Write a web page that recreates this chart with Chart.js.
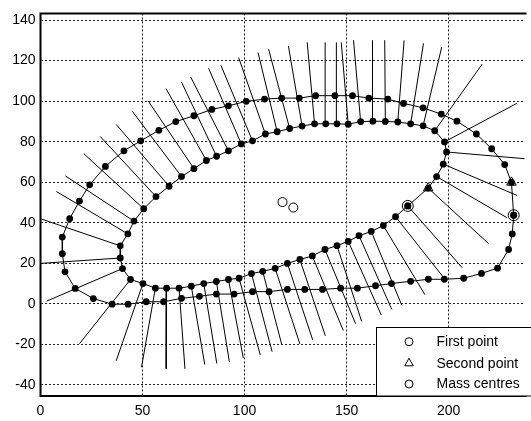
<!DOCTYPE html>
<html>
<head>
<meta charset="utf-8">
<script src="https://cdn.jsdelivr.net/npm/chart.js@4.4.1/dist/chart.umd.min.js"></script>
<style>
  html, body { margin: 0; padding: 0; background: #fff; }
  canvas { display: block; }
</style>
</head>
<body>
<canvas id="chart" width="531" height="421"></canvas>
<script>
// inner contour, counter-clockwise from its first point
const innerX = [180.0, 190.0, 194.1, 197.4, 199.0, 198.0, 193.2, 187.5, 181.4, 175.1,
  169.0, 162.9, 156.9, 150.8, 145.3, 139.8, 134.3, 128.2, 122.1, 116.0,
  110.2, 103.9, 98.4, 92.1, 86.3, 81.3, 75.2, 69.1, 63.0, 56.6,
  50.6, 45.8, 42.8, 39.1, 39.1, 40.2, 44.1, 50.2, 56.3, 61.8,
  67.9, 73.9, 80.0, 86.2, 92.1, 97.3, 103.4, 108.9, 115.0, 121.0,
  127.1, 133.2, 139.4, 145.3, 150.8, 156.1, 162.1, 168.0, 174.0];
const innerY = [48.3, 57.1, 62.8, 68.9, 74.9, 79.9, 85.4, 87.8, 88.8, 89.7,
  90.0, 90.1, 89.9, 88.6, 88.8, 88.8, 88.8, 87.7, 86.5, 84.9,
  83.8, 80.4, 78.9, 75.5, 72.8, 70.7, 66.7, 62.8, 58.0, 52.9,
  46.9, 40.8, 34.5, 28.6, 22.6, 17.4, 12.0, 10.0, 7.7, 7.7,
  7.7, 8.7, 10.0, 11.0, 12.0, 12.6, 14.9, 16.0, 17.5, 19.9,
  21.9, 23.6, 26.8, 28.7, 30.8, 33.6, 35.7, 38.6, 43.0];

// far end of the normal drawn from each inner point
const normalX = [206.7, 219.6, 228.6, 233.5, 238.5, 233.4, 216.5, 196.6, 187.7, 178.2,
  168.7, 162.7, 153.4, 147.4, 145.0, 139.5, 130.7, 121.5, 111.8, 106.6,
  97.1, 88.4, 82.4, 73.6, 69.1, 61.5, 52.7, 45.0, 37.1, 29.3,
  21.2, 12.2, 7.8, 0.5, -0.3, 3.0, 19.1, 37.1, 49.5, 61.6,
  70.8, 80.5, 86.4, 92.6, 99.4, 107.7, 113.5, 118.2, 127.1, 133.4,
  139.6, 148.4, 154.4, 157.4, 167.0, 172.2, 177.1, 188.4, 197.5];
const normalY = [17.8, 29.7, 42.5, 53.5, 71.5, 98.9, 118.3, 126.6, 128.5, 130.0,
  130.1, 130.1, 130.1, 129.0, 129.0, 129.0, 129.0, 127.2, 125.6, 124.0,
  121.5, 117.7, 116.2, 111.9, 109.4, 106.2, 100.2, 95.0, 88.5, 82.5,
  74.1, 63.1, 55.4, 41.8, 19.9, 1.3, -19.7, -28.1, -31.3, -32.0,
  -32.1, -30.0, -29.4, -28.8, -26.8, -25.2, -23.6, -20.0, -19.8, -17.8,
  -15.8, -13.2, -9.8, -8.7, -5.5, -2.8, -0.8, 4.5, 13.0];

// outer contour, counter-clockwise from its first point
const outerX = [231.9, 230.8, 227.5, 221.1, 213.6, 204.1, 196.4, 187.5, 177.9, 170.2,
  160.9, 152.9, 144.3, 134.8, 126.8, 118.2, 109.8, 100.8, 92.1, 84.0,
  75.2, 66.3, 58.0, 49.1, 40.9, 31.8, 24.1, 19.1, 14.3, 10.7,
  10.7, 12.0, 17.0, 25.9, 35.1, 42.9, 51.8, 60.3, 69.1, 77.9,
  86.2, 94.9, 103.9, 112.0, 121.0, 129.5, 138.2, 147.1, 155.3, 164.2,
  172.0, 181.4, 190.1, 197.9, 207.4, 216.1, 224.0, 229.4, 231.2];
const outerY = [43.7, 59.9, 68.7, 76.5, 83.8, 90.1, 93.6, 96.7, 98.9, 101.0,
  101.5, 102.7, 102.7, 102.7, 101.5, 101.5, 101.0, 99.9, 97.7, 95.9,
  92.8, 89.9, 85.6, 80.4, 75.5, 67.8, 58.7, 50.7, 42.0, 32.9,
  24.7, 15.8, 7.6, 2.6, -0.2, -0.2, 1.0, 1.0, 2.7, 3.7,
  4.8, 4.8, 6.0, 6.0, 7.1, 7.1, 7.1, 7.7, 7.7, 8.9,
  10.0, 11.1, 12.1, 12.1, 12.6, 15.0, 17.6, 26.8, 34.5];

const firstPointX = [180.0, 231.9];
const firstPointY = [48.3, 43.7];
const secondPointX = [190.0, 230.8];
const secondPointY = [57.1, 59.9];
const massCentreX = [118.6, 123.9];
const massCentreY = [50.2, 47.5];

const xTicks = [0, 50, 100, 150, 200];
const yTicks = [-40, -20, 0, 20, 40, 60, 80, 100, 120, 140];
const legendLabels = ['First point', 'Second point', 'Mass centres'];

const FONT = '"Liberation Sans", Arial, sans-serif';

const toPoints = (xs, ys) => xs.map((x, i) => ({ x, y: ys[i] }));
const closed = pts => pts.concat([pts[0]]);

function contour (xs, ys) {
  return {
    data: closed(toPoints(xs, ys)),
    showLine: true,
    borderColor: '#000',
    borderWidth: 1,
    pointRadius: 3.4,
    pointBackgroundColor: '#000',
    pointBorderWidth: 0,
    order: 2
  };
}

function markers (xs, ys, style, radius) {
  return {
    data: toPoints(xs, ys),
    showLine: false,
    pointStyle: style,
    pointRadius: radius,
    pointBackgroundColor: 'rgba(0,0,0,0)',
    pointBorderColor: '#000',
    pointBorderWidth: 1,
    order: 1
  };
}

const normals = innerX.map((x, i) => ({
  data: [{ x, y: innerY[i] }, { x: normalX[i], y: normalY[i] }],
  showLine: true,
  borderColor: '#000',
  borderWidth: 1,
  pointRadius: 0,
  order: 3
}));

// frame and legend box, drawn on top of the plot
const framePlugin = {
  id: 'frame',
  afterDraw (chart) {
    const { ctx, chartArea: a } = chart;
    ctx.save();
    ctx.strokeStyle = '#000';
    ctx.lineWidth = 2;
    ctx.beginPath();
    ctx.moveTo(a.right + 2, a.top);
    ctx.lineTo(a.left, a.top);
    ctx.lineTo(a.left, a.bottom);
    ctx.lineTo(a.right + 2, a.bottom);
    ctx.stroke();

    // legend
    const bx = 376.5, by = 327.5;
    ctx.fillStyle = '#fff';
    ctx.fillRect(bx, by, 200, a.bottom - by);
    ctx.lineWidth = 1;
    ctx.strokeRect(bx, by, 200, a.bottom - by);

    const rows = [341.7, 363.3, 384.0];
    const mx = 409;
    ctx.font = '14px ' + FONT;
    ctx.textBaseline = 'middle';
    ctx.fillStyle = '#000';
    legendLabels.forEach((label, i) => {
      const y = rows[i];
      ctx.beginPath();
      if (i === 1) {
        const r = 5;
        ctx.moveTo(mx, y - r);
        ctx.lineTo(mx + r * 0.866, y + r * 0.5);
        ctx.lineTo(mx - r * 0.866, y + r * 0.5);
        ctx.closePath();
      } else {
        ctx.arc(mx, y, 4, 0, Math.PI * 2);
      }
      ctx.stroke();
      ctx.fillText(label, 436.5, y + 0.5);
    });
    ctx.restore();
  }
};

new Chart(document.getElementById('chart'), {
  type: 'scatter',
  data: {
    datasets: [
      markers(firstPointX, firstPointY, 'circle', 5.5),
      markers(secondPointX, secondPointY, 'triangle', 5.5),
      markers(massCentreX, massCentreY, 'circle', 4.5),
      contour(innerX, innerY),
      contour(outerX, outerY),
      ...normals
    ]
  },
  options: {
    responsive: false,
    animation: false,
    events: [],
    layout: { padding: { top: 6, left: 0, right: 0, bottom: 0 } },
    plugins: {
      legend: { display: false },
      tooltip: { enabled: false }
    },
    scales: {
      x: {
        type: 'linear',
        min: 0,
        max: 237.2,
        afterBuildTicks: s => { s.ticks = xTicks.map(v => ({ value: v })); },
        afterFit: s => { s.height = 25; },
        grid: { color: '#222', lineWidth: 1, drawTicks: false },
        border: { display: false, dash: [2, 2] },
        ticks: { color: '#000', padding: 7, maxRotation: 0, font: { family: FONT, size: 14 } }
      },
      y: {
        type: 'linear',
        min: -45.5,
        max: 143.3,
        afterBuildTicks: s => { s.ticks = yTicks.map(v => ({ value: v })); },
        afterFit: s => { s.width = 40.5; },
        grid: { color: '#222', lineWidth: 1, drawTicks: false },
        border: { display: false, dash: [2, 2] },
        ticks: { color: '#000', padding: 5, font: { family: FONT, size: 14 } }
      }
    }
  },
  plugins: [framePlugin]
});
</script>
</body>
</html>
